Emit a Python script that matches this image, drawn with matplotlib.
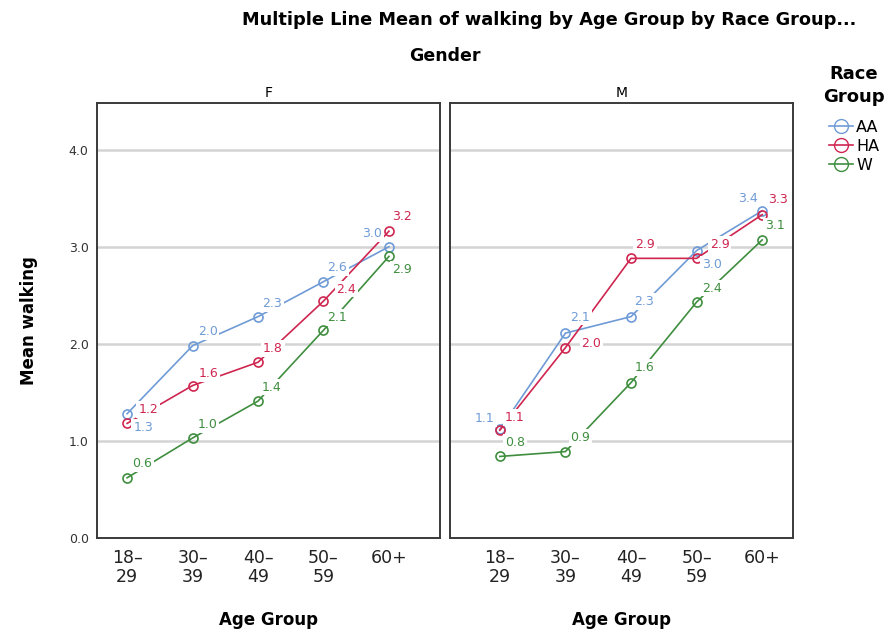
import matplotlib
matplotlib.use("Agg")
from matplotlib import pyplot as plt
from matplotlib.lines import Line2D

# data
age_groups = ["18–\n29", "30–\n39", "40–\n49", "50–\n59", "60+"]
races = ["AA", "HA", "W"]

f_aa = [1.28, 1.98, 2.28, 2.64, 3.00]
f_ha = [1.18, 1.57, 1.81, 2.44, 3.16]
f_w = [0.62, 1.03, 1.41, 2.14, 2.90]

m_aa = [1.12, 2.11, 2.28, 2.96, 3.37]
m_ha = [1.11, 1.96, 2.88, 2.88, 3.33]
m_w = [0.84, 0.89, 1.60, 2.43, 3.07]

# label offsets (pixels) so the numbers sit where the original put them
f_off = {
    "AA": [(16, -14), (15, 14), (14, 13), (14, 14), (-17, 13)],
    "HA": [(21, 14), (16, 12), (15, 14), (23, 12), (13, 15)],
    "W": [(15, 14), (15, 13), (14, 14), (14, 13), (13, -13)],
}
m_off = {
    "AA": [(-15, 11), (15, 16), (13, 15), (15, -14), (-14, 12)],
    "HA": [(15, 13), (26, 4), (14, 14), (23, 14), (16, 15)],
    "W": [(15, 14), (15, 14), (14, 15), (15, 14), (13, 14)],
}

colors = {"AA": "#6f9bd6", "HA": "#cf2650", "W": "#3f8e3f"}

fig = plt.figure(figsize=(8.91, 6.33), dpi=100)
ax1 = fig.add_axes([97 / 891, 95 / 633, 343 / 891, 435 / 633])
ax2 = fig.add_axes([450 / 891, 95 / 633, 343 / 891, 435 / 633])

panels = [
    (ax1, {"AA": f_aa, "HA": f_ha, "W": f_w}, f_off, "F", (-0.46, 4.78)),
    (ax2, {"AA": m_aa, "HA": m_ha, "W": m_w}, m_off, "M", (-0.76, 4.47)),
]

for ax, series, offs, name, xl in panels:
    x = list(range(len(age_groups)))
    for y in [1, 2, 3, 4]:
        ax.axhline(y, color="#d4d4d4", lw=1.8, zorder=0)
    for r in races:
        ax.plot(x, series[r], color=colors[r], lw=1.2, marker="o", ms=6.5,
                mfc="none", mec=colors[r], mew=1.2, zorder=2)
        for i, v in enumerate(series[r]):
            dx, dy = offs[r][i]
            ax.annotate("%.1f" % v, (i, v), xytext=(dx, dy),
                        textcoords="offset pixels", ha="center", va="center",
                        fontsize=9, color=colors[r], zorder=3,
                        bbox=dict(boxstyle="square,pad=0.15", fc="white",
                                  ec="none"))
    ax.set_xlim(*xl)
    ax.set_ylim(0, 4.48)
    ax.set_xticks(x)
    ax.set_xticklabels(age_groups, fontsize=12.5, linespacing=1.05)
    ax.tick_params(axis="x", length=0, pad=8, colors="#222222")
    ax.set_yticks([0, 1, 2, 3, 4])
    ax.set_yticklabels(["0.0", "1.0", "2.0", "3.0", "4.0"], fontsize=9)
    ax.tick_params(axis="y", length=0, pad=6, colors="#333333")
    for s in ax.spines.values():
        s.set_color("#3a3a3a")
        s.set_linewidth(1.4)
    ax.set_title(name, fontsize=10, pad=4)
    ax.set_xlabel("Age Group", fontsize=12, fontweight="bold", labelpad=18)

ax2.tick_params(axis="y", labelleft=False)
ax1.set_ylabel("Mean walking", fontsize=12, fontweight="bold", labelpad=22)

fig.text(549 / 891, 1 - 20 / 633, "Multiple Line Mean of walking by Age Group by Race Group...",
         ha="center", va="center", fontsize=12.8, fontweight="bold")
fig.text(445 / 891, 1 - 56 / 633, "Gender", ha="center", va="center",
         fontsize=12.5, fontweight="bold")

handles = [Line2D([0], [0], color=colors[r], lw=1.2, marker="o", ms=10,
                  mfc="none", mec=colors[r]) for r in races]
leg = fig.legend(handles, races, title="Race\nGroup", loc="upper left",
                 bbox_to_anchor=(812 / 891, 1 - 54 / 633), frameon=False,
                 fontsize=11.5, title_fontproperties={"weight": "bold", "size": 13},
                 handlelength=1.5, handletextpad=0.2, labelspacing=0.25,
                 borderpad=0.2)
leg._legend_box.align = "center"
leg._legend_box.sep = 10
leg.get_title().set_multialignment("center")
leg.get_title().set_linespacing(1.35)

fig.savefig("out.png", dpi=100)
